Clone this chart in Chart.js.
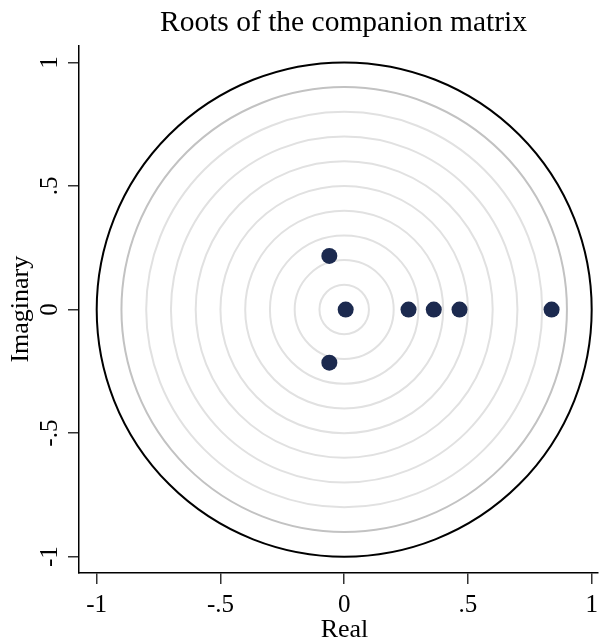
<!DOCTYPE html>
<html>
<head>
<meta charset="utf-8">
<title>Roots of the companion matrix</title>
<script src="https://cdn.jsdelivr.net/npm/chart.js@4.4.1/dist/chart.umd.min.js"></script>
<style>
  html, body { margin: 0; padding: 0; background: #fff; }
  #wrap { width: 601px; height: 643px; }
</style>
</head>
<body>
<div id="wrap"><canvas id="rootsChart"></canvas></div>
<script>
// ---- data ----
const rootsReal = [-0.06, -0.06, 0.006, 0.26, 0.362, 0.466, 0.838];
const rootsImag = [0.217, -0.215, 0, 0, 0, 0, 0];

const tickValues = [-1, -0.5, 0, 0.5, 1];
const tickLabels = ['-1', '-.5', '0', '.5', '1'];

// reference rings
const innerRings = [0.1, 0.2, 0.3, 0.4, 0.5, 0.6, 0.7, 0.8];
const outerRing  = 0.9;
const unitRing   = 1;

// ---- helpers ----
const SERIF = "'Liberation Serif', 'Times New Roman', serif";
const labelFor = (v) => {
  const i = tickValues.indexOf(v);
  return i >= 0 ? tickLabels[i] : '';
};
const fixTicks = (scale) => { scale.ticks = tickValues.map(v => ({ value: v })); };

// rings drawn behind the points, sized by the scales
const ringsPlugin = {
  id: 'rings',
  beforeDatasetsDraw(chart) {
    const { ctx, scales: { x, y } } = chart;
    const cx = x.getPixelForValue(0), cy = y.getPixelForValue(0);
    const ring = (r, color, w) => {
      const rx = x.getPixelForValue(r) - cx;
      const ry = cy - y.getPixelForValue(r);
      ctx.beginPath();
      ctx.ellipse(cx, cy, rx, ry, 0, 0, Math.PI * 2);
      ctx.strokeStyle = color;
      ctx.lineWidth = w;
      ctx.stroke();
    };
    ctx.save();
    innerRings.forEach(r => ring(r, '#e1e1e1', 2));
    ring(outerRing, '#c2c2c2', 2);
    ring(unitRing, '#000', 2);
    ctx.restore();
  }
};

// Stata centres the titles on the plot region, not the canvas
const centerTitles = {
  id: 'centerTitles',
  afterLayout(chart) {
    if (chart.titleBlock) {
      chart.titleBlock.left = 89;
      chart.titleBlock.right = 598;
    }
    const xs = chart.scales.x;
    if (xs && !xs._shifted) {
      const orig = xs.drawTitle;
      xs.drawTitle = function () {
        this.ctx.save();
        this.ctx.translate(6, 0);
        orig.call(this);
        this.ctx.restore();
      };
      xs._shifted = true;
    }
  }
};

// ---- chart ----
Chart.defaults.font.family = SERIF;
Chart.defaults.color = '#000';

new Chart(document.getElementById('rootsChart'), {
  type: 'scatter',
  data: {
    datasets: [{
      data: rootsReal.map((re, i) => ({ x: re, y: rootsImag[i] })),
      backgroundColor: '#1c2a4f',
      borderWidth: 0,
      pointRadius: 8,
      pointHoverRadius: 8
    }]
  },
  options: {
    responsive: true,
    maintainAspectRatio: false,
    animation: false,
    // no extra room for the point radius, the plot area is fixed
    layout: { autoPadding: false, padding: { left: 0, right: 3, top: 0, bottom: 0 } },
    plugins: {
      legend: { display: false },
      tooltip: { enabled: false },
      title: {
        display: true,
        text: 'Roots of the companion matrix',
        color: '#000',
        font: { family: SERIF, size: 29.5, weight: 'normal' },
        padding: { top: 6, bottom: 4 }
      }
    },
    scales: {
      x: {
        type: 'linear',
        min: -1.0715,
        max: 1.0255,
        afterBuildTicks: fixTicks,
        afterFit: (s) => { s.height = 70; },
        grid: { drawOnChartArea: false, drawTicks: true, tickLength: 11, color: '#333', lineWidth: 1.5 },
        border: { display: true, color: '#000', width: 1.5 },
        ticks: {
          autoSkip: false,
          maxRotation: 0,
          padding: 0, // gap comes from lineHeight, keeps the right edge free
          color: '#000',
          font: { family: SERIF, size: 25, lineHeight: 1.7 },
          callback: labelFor
        },
        title: {
          display: true,
          text: 'Real',
          color: '#000',
          font: { family: SERIF, size: 26, lineHeight: 1 },
          padding: { top: 0, bottom: 0 }
        }
      },
      y: {
        type: 'linear',
        min: -1.0659,
        max: 1.0687,
        afterBuildTicks: fixTicks,
        afterFit: (s) => { s.width = 79; },
        grid: { drawOnChartArea: false, drawTicks: true, tickLength: 11, color: '#333', lineWidth: 1.5 },
        border: { display: true, color: '#000', width: 1.5 },
        ticks: {
          autoSkip: false,
          minRotation: 90,
          maxRotation: 90,
          crossAlign: 'center',
          padding: 4,
          color: '#000',
          font: { family: SERIF, size: 25 },
          callback: labelFor
        },
        title: {
          display: true,
          text: 'Imaginary',
          color: '#000',
          font: { family: SERIF, size: 26, lineHeight: 1 },
          padding: { top: 8, bottom: 0 }
        }
      }
    }
  },
  plugins: [ringsPlugin, centerTitles]
});
</script>
</body>
</html>
